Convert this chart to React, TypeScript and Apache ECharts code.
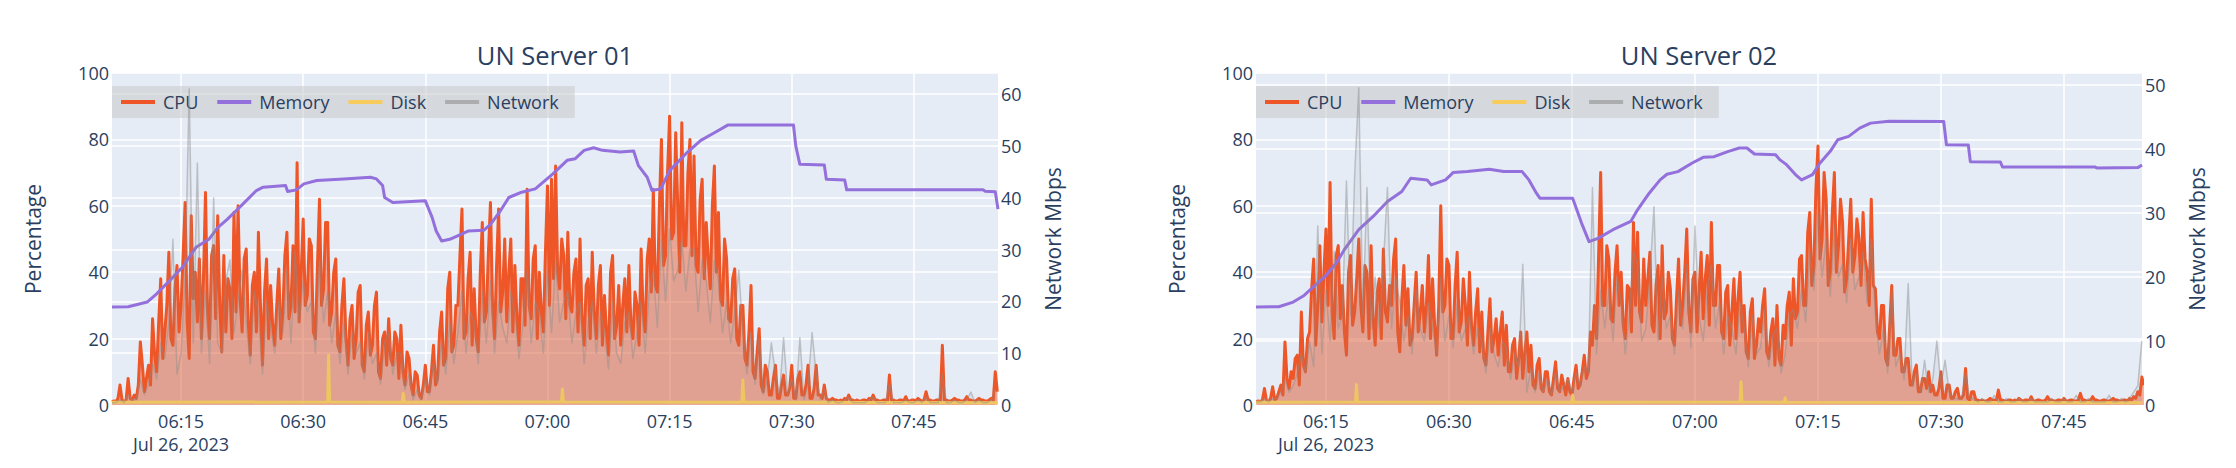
import React, { useEffect, useRef } from 'react';
import * as echarts from 'echarts';

// ---------- data ----------
const seriesNames = ['CPU', 'Memory', 'Disk', 'Network'];
const titles = ['UN Server 01', 'UN Server 02'];
const tickLabels = ['06:15', '06:30', '06:45', '07:00', '07:15', '07:30', '07:45'];
const dateLabel = 'Jul 26, 2023';
const xRange01 = ['06:06:31', '07:55:20'];
const xRange02 = ['06:06:28', '07:54:31'];
const netMax01 = 64.1;
const netMax02 = 51.9;

// CPU sampled every 15 s, Network every 30 s, both starting at 06:06:30
const sampleStart = '06:06:30';
const cpuStepSec = 15;
const netStepSec = 30;

const cpu01 = [
  1, 1.2,
  1, 2, 6, 1.5, 1, 1.5, 8, 2, 1.5, 3, 2, 6, 19, 12, 4, 8, 12, 6, 26, 15,
  10, 25, 38, 14, 22, 30, 46, 20, 18, 35, 42, 22, 30, 45, 61, 25, 14, 57, 32, 40,
  25, 44, 20, 38, 64, 28, 20, 45, 48, 26, 57, 30, 16, 45, 22, 38, 35, 20, 58, 28,
  60, 32, 22, 44, 47, 25, 15, 36, 40, 22, 52, 30, 12, 34, 44, 20, 36, 24, 18, 30,
  41, 20, 28, 45, 52, 26, 30, 48, 28, 73, 25, 40, 56, 30, 33, 50, 48, 22, 20, 42,
  62, 30, 35, 55, 55, 24, 28, 40, 44, 18, 16, 30, 38, 20, 12, 26, 30, 14, 20, 34,
  36, 12, 10, 24, 28, 15, 18, 30, 34, 10, 8, 20, 22, 12, 26, 14, 12, 22, 20, 8,
  24, 10, 6, 16, 14, 6, 3, 10, 9, 3, 2, 6, 12, 4, 4, 10, 18, 6, 8, 22,
  28, 12, 14, 35, 40, 16, 18, 30, 30, 45, 59, 20, 22, 38, 46, 18, 35, 20, 16, 40,
  55, 25, 28, 46, 61, 30, 20, 42, 59, 28, 34, 50, 25, 40, 50, 22, 42, 26, 18, 38,
  38, 24, 65, 30, 26, 44, 48, 20, 40, 28, 22, 46, 66, 30, 68, 38, 72, 40, 35, 50,
  45, 26, 52, 30, 28, 40, 44, 22, 50, 26, 18, 36, 38, 20, 46, 28, 20, 36, 42, 18,
  33, 22, 15, 40, 45, 20, 24, 36, 18, 30, 38, 22, 42, 24, 20, 34, 30, 18, 47, 28,
  22, 44, 50, 34, 65, 36, 34, 60, 80, 42, 45, 70, 87, 50, 52, 82, 60, 40, 85, 48,
  48, 70, 80, 45, 75, 42, 40, 62, 68, 38, 55, 44, 35, 60, 72, 40, 58, 32, 30, 50,
  44, 26, 25, 38, 41, 20, 18, 30, 30, 14, 12, 22, 36, 10, 8, 16, 23, 6, 4, 12,
  10, 3, 3, 8, 12, 2, 2, 6, 9, 3, 3, 5, 12, 2, 2, 8, 10, 3, 3, 6,
  12, 2, 2, 5, 12, 3, 3, 2, 6, 2, 1.5, 1.5, 2, 1.5, 1.5, 1.2, 1.5, 1.2, 2, 1.5,
  3, 1.5, 1.5, 1.2, 1.5, 1.2, 1.2, 1.5, 1.5, 1.2, 2, 1.5, 3, 1.5, 1.5, 1.2, 1.2, 1.5, 1.5, 1.2,
  9, 1.5, 1.5, 1.2, 1.2, 1.5, 1.5, 1.2, 2.5, 1.2, 1.2, 1.5, 1.5, 1.2, 2, 1.5, 1.2, 1.5, 4, 1.5,
  1.5, 1.2, 1.2, 1.5, 1.5, 1.2, 18, 1.5, 1.5, 1.2, 1.2, 1.5, 2, 1.5, 1.5, 1.2, 1.2, 1.5, 2.5, 1.5,
  1.5, 1.2, 1.2, 1.5, 2, 1.5, 1.5, 1.2, 1.2, 1.5, 2, 1.5,
  10, 4,
];

const net01 = [
  0.5,
  0.5, 1, 0.5, 2, 1, 1, 5, 2, 4, 8, 5, 12, 9, 16, 32, 6, 10, 25, 61, 12,
  46.7, 10, 22, 8, 40, 12, 10, 24, 28, 14, 20, 26, 16, 8, 22, 18, 6, 20, 15, 10,
  20, 14, 26, 12, 30, 16, 24, 18, 20, 10, 28, 16, 22, 12, 18, 8, 16, 6, 14, 10,
  12, 5, 14, 8, 10, 4, 12, 14, 6, 10, 10, 3, 6, 1, 3, 1, 5, 2, 8, 4,
  12, 6, 16, 8, 14, 22, 10, 18, 16, 8, 22, 12, 24, 10, 20, 15, 12, 22, 18, 9,
  16, 26, 12, 20, 18, 10, 26, 14, 28, 16, 20, 22, 12, 18, 20, 8, 16, 20, 10, 18,
  14, 7, 20, 10, 8, 16, 18, 9, 14, 20, 10, 22, 26, 15, 32, 20, 34, 24, 26, 32,
  22, 30, 30, 18, 28, 24, 16, 28, 24, 14, 20, 12, 18, 26, 14, 6, 14, 4, 13, 2,
  5, 12, 6, 2, 13, 2, 5, 1, 13, 1, 4, 14, 6, 1, 3, 0.5, 1, 0.5, 0.5, 1,
  1.5, 0.5, 0.5, 0.5, 0.5, 1, 1.5, 0.5, 0.5, 0.5, 4, 0.5, 0.5, 0.5, 1, 0.5, 0.5, 1, 0.5, 1.5,
  0.5, 0.5, 0.5, 6, 0.5, 0.5, 1, 0.5, 0.5, 1, 2.5, 0.5, 1, 0.5, 0.5, 1,
  3,
];

const cpu02 = [
  1, 1.2,
  1, 1.5, 5, 1.2, 1, 2, 5.5, 1.5, 2, 4, 6, 3, 19, 8, 5, 10, 8, 14, 15, 6,
  28, 12, 10, 20, 22, 35, 44, 18, 30, 48, 25, 40, 53, 30, 67, 28, 20, 45, 48, 26,
  36, 22, 15, 40, 45, 24, 28, 38, 50, 30, 22, 42, 40, 20, 48, 26, 18, 34, 38, 20,
  47, 28, 25, 36, 30, 44, 50, 22, 16, 32, 42, 24, 35, 18, 20, 30, 40, 22, 28, 36,
  22, 30, 45, 20, 38, 24, 15, 30, 60, 28, 30, 44, 42, 20, 20, 36, 46, 22, 25, 38,
  30, 18, 40, 24, 18, 28, 35, 16, 28, 14, 12, 22, 32, 16, 20, 26, 15, 22, 28, 12,
  24, 10, 10, 18, 20, 8, 14, 22, 8, 16, 22, 10, 18, 6, 5, 12, 14, 5, 4, 10,
  10, 4, 3, 8, 13, 5, 4, 9, 6, 3, 8, 4, 3, 8, 12, 5, 6, 10, 15, 8,
  10, 22, 18, 30, 20, 45, 70, 30, 30, 48, 44, 26, 25, 40, 48, 30, 40, 24, 20, 36,
  35, 22, 55, 30, 52, 28, 25, 44, 30, 38, 46, 24, 22, 36, 42, 20, 48, 26, 28, 40,
  35, 20, 18, 32, 44, 24, 30, 40, 53, 28, 22, 38, 40, 22, 34, 46, 26, 38, 45, 24,
  55, 30, 30, 42, 42, 22, 20, 34, 36, 18, 28, 38, 20, 32, 40, 22, 30, 16, 14, 28,
  32, 14, 18, 26, 22, 30, 35, 16, 14, 22, 26, 12, 30, 14, 12, 24, 20, 30, 34, 18,
  38, 26, 28, 44, 45, 30, 30, 52, 58, 36, 42, 65, 78, 44, 50, 70, 62, 36, 40, 58,
  70, 40, 48, 62, 55, 34, 38, 50, 62, 40, 45, 56, 50, 36, 58, 44, 40, 30, 62, 36,
  35, 22, 20, 30, 30, 14, 12, 24, 36, 15, 15, 20, 20, 10, 10, 14, 14, 6, 6, 10,
  12, 4, 4, 8, 8, 5, 10, 4, 6, 3, 3, 5, 10, 2, 2, 6, 6, 2, 2, 4,
  5, 2, 2, 3, 11, 2, 1.5, 4, 4, 1.5, 1.5, 1.2, 1.5, 1.2, 1.2, 1.5, 2, 1.5, 1.5, 1.2,
  4.5, 1.5, 1.5, 1.2, 1.2, 1.5, 1.5, 1.2, 1.5, 1.2, 2, 1.5, 1.2, 1.5, 1.5, 1.2, 2.5, 1.2, 1.2, 1.5,
  1.5, 1.2, 1.2, 1.5, 2.5, 1.5, 1.5, 1.2, 1.2, 1.5, 1.5, 1.2, 2, 1.2, 1.2, 1.5, 1.5, 1.2, 1.2, 1.5,
  3.5, 1.5, 1.5, 1.2, 1.2, 1.5, 2.5, 1.5, 1.5, 1.2, 1.2, 1.5, 1.5, 1.2, 1.2, 1.5, 2, 1.5, 1.5, 1.2,
  1.2, 1.5, 1.5, 1.2, 2, 1.5, 2.5, 2, 4, 3, 8.4, 6,
];

const net02 = [
  0.5,
  0.5, 1, 0.5, 1, 1, 2, 4, 2, 3, 5, 8, 5, 10, 6, 28, 8, 18, 10, 24, 12,
  14, 35, 14, 36, 49.6, 14, 34, 12, 20, 12, 22, 34, 12, 20, 16, 10, 14, 8, 18, 12,
  10, 16, 12, 8, 20, 10, 14, 9, 16, 10, 12, 14, 8, 12, 10, 5, 12, 8, 6, 10,
  9, 4, 8, 6, 22, 2, 6, 2, 5, 2, 4, 1.5, 5, 2, 3, 4, 2, 5, 3, 6,
  5, 34, 8, 18, 12, 18, 10, 20, 16, 8, 14, 24, 22, 10, 12, 20, 31, 10, 20, 12,
  14, 8, 18, 12, 22, 9, 28, 14, 10, 18, 22, 12, 16, 8, 14, 12, 8, 16, 12, 6,
  14, 8, 9, 15, 6, 11, 12, 5, 8, 14, 15, 12, 18, 13, 24, 18, 30, 20, 26, 17,
  28, 20, 22, 16, 26, 18, 20, 24, 16, 26, 14, 8, 12, 5, 18, 6, 8, 4, 19, 3,
  5, 2, 7, 2, 4, 10, 3, 7, 2, 1, 1, 1, 5, 1, 1, 0.5, 1, 0.5, 0.5, 1.5,
  0.5, 0.5, 1, 0.5, 0.5, 1, 0.5, 0.5, 1, 0.5, 0.5, 0.5, 0.5, 1, 0.5, 0.5, 1, 0.5, 0.5, 1.5,
  0.5, 0.5, 1, 0.5, 0.5, 0.5, 0.5, 1.5, 0.5, 0.5, 1, 0.5, 1, 2, 3, 10,
];

const mem01: [string, number][] = [
  ['06:06:31', 29.5], ['06:08:30', 29.6], ['06:09:30', 30.2], ['06:10:50', 31],
  ['06:12:00', 33.5], ['06:13:25', 37], ['06:15:10', 41.5], ['06:16:50', 47.5],
  ['06:18:25', 49.9], ['06:19:30', 53.4], ['06:20:40', 55.9], ['06:21:45', 58.5],
  ['06:22:35', 60.5], ['06:24:15', 64.6], ['06:25:05', 65.6], ['06:27:50', 66.1],
  ['06:28:05', 64.3], ['06:29:10', 64.8], ['06:30:05', 66.6], ['06:31:40', 67.6],
  ['06:35:00', 68.1], ['06:38:15', 68.6], ['06:39:00', 68.1], ['06:39:45', 66.1],
  ['06:40:00', 62.5], ['06:41:00', 61.0], ['06:45:00', 61.5], ['06:45:50', 56.5],
  ['06:46:20', 52.4], ['06:47:00', 49.4], ['06:48:00', 49.9], ['06:50:15', 52.4],
  ['06:52:10', 52.6], ['06:53:00', 54.4], ['06:54:05', 58], ['06:55:15', 62.5],
  ['06:56:50', 64.1], ['06:58:30', 65.1], ['07:00:40', 69.6], ['07:02:25', 73.7],
  ['07:03:25', 74.2], ['07:04:30', 76.7], ['07:05:40', 77.5], ['07:06:45', 76.7],
  ['07:08:55', 76.2], ['07:10:35', 76.5], ['07:11:10', 72.1], ['07:12:15', 68.6],
  ['07:12:50', 64.6], ['07:13:55', 65.1], ['07:15:00', 70.6], ['07:17:00', 75.7],
  ['07:18:50', 79.7], ['07:20:30', 82], ['07:22:08', 84.3], ['07:30:13', 84.3],
  ['07:30:30', 78], ['07:31:00', 72.5], ['07:34:00', 72.3], ['07:34:15', 68],
  ['07:36:30', 67.8], ['07:36:45', 64.8], ['07:53:30', 64.8], ['07:53:45', 64.4],
  ['07:55:00', 64.2], ['07:55:20', 59],
];

const mem02: [string, number][] = [
  ['06:06:28', 29.5], ['06:09:15', 29.6], ['06:11:00', 31], ['06:12:20', 33],
  ['06:13:40', 36], ['06:15:00', 39], ['06:16:20', 43], ['06:17:13', 46.7],
  ['06:19:00', 52.8], ['06:20:45', 56.8], ['06:22:30', 61.3], ['06:24:15', 64.3],
  ['06:25:20', 68.3], ['06:27:20', 67.8], ['06:27:50', 66.3], ['06:29:35', 67.8],
  ['06:30:30', 70], ['06:32:15', 70.3], ['06:34:55', 71], ['06:36:40', 70.3],
  ['06:38:55', 70.3], ['06:39:45', 67.8], ['06:40:40', 63.8], ['06:41:05', 62.3],
  ['06:45:05', 62.3], ['06:45:40', 58.3], ['06:46:10', 54.8], ['06:47:05', 49.2],
  ['06:48:10', 50.2], ['06:50:00', 52.8], ['06:52:10', 55.3], ['06:53:00', 58.8],
  ['06:54:25', 63.8], ['06:55:45', 67.8], ['06:56:35', 69.5], ['06:57:55', 70.3],
  ['06:59:40', 72.9], ['07:01:00', 74.6], ['07:02:20', 74.8], ['07:04:05', 76.4],
  ['07:05:25', 77.4], ['07:06:20', 77.4], ['07:07:15', 75.6], ['07:09:50', 75.4],
  ['07:10:20', 73.9], ['07:11:10', 72.4], ['07:12:15', 69.4], ['07:13:00', 67.8],
  ['07:14:20', 69.4], ['07:15:15', 72.9], ['07:16:30', 76.4], ['07:17:25', 79.9],
  ['07:18:45', 80.9], ['07:20:05', 83.4], ['07:21:25', 84.9], ['07:23:40', 85.5],
  ['07:30:20', 85.4], ['07:30:40', 78.4], ['07:33:20', 78.3], ['07:33:35', 73.3],
  ['07:37:15', 73.2], ['07:37:30', 71.7], ['07:48:45', 71.7], ['07:49:00', 71.4],
  ['07:54:00', 71.5], ['07:54:31', 72.3],
];

const disk01: [string, number][] = [
  ['06:06:31', 0.8], ['06:33:00', 0.9], ['06:33:07', 15], ['06:33:15', 0.9],
  ['06:42:10', 0.8], ['06:42:17', 3.5], ['06:42:25', 0.8], ['07:01:43', 0.9],
  ['07:01:50', 4.8], ['07:01:58', 0.9], ['07:23:52', 0.8], ['07:24:00', 7.5],
  ['07:24:08', 0.8], ['07:55:20', 0.7],
];

const disk02: [string, number][] = [
  ['06:06:28', 0.8], ['06:18:36', 0.9], ['06:18:43', 6.2], ['06:18:50', 0.9],
  ['06:44:58', 0.8], ['06:45:05', 3], ['06:45:12', 0.8], ['07:05:30', 0.9],
  ['07:05:37', 7], ['07:05:44', 0.9], ['07:10:53', 0.8], ['07:11:00', 2.2],
  ['07:11:07', 0.8], ['07:54:31', 0.7],
];

// ---------- styling ----------
const TEXT = '#2a3f5f';
const FONT = '"Open Sans", verdana, arial, sans-serif';
const C_CPU = '#EE5627';
const C_MEM = '#9370DB';
const C_DISK = '#F8CC5C';
const C_NET_LINE = 'rgba(140,140,140,0.45)';
const C_NET_LEGEND = 'rgba(130,130,130,0.5)';
const C_NET_FILL = 'rgba(140,140,140,0.14)';

const toMs = (s: string) => {
  const [h, m, sec] = s.split(':').map(Number);
  return Date.UTC(2023, 6, 26, h, m, sec || 0);
};
const sampled = (vals: number[], stepSec: number) =>
  vals.map((v, i) => [toMs(sampleStart) + i * stepSec * 1000, v]);
const pairs = (list: [string, number][]) => list.map(([t, v]) => [toMs(t), v]);
const pad = (n: number) => (n < 10 ? '0' + n : '' + n);

const tickValues = tickLabels.map((t) => toMs(t + ':00'));

function buildOption() {
  const gridDefs = [
    { left: 112, top: 73, width: 886, height: 332 },
    { left: 1256, top: 73, width: 886, height: 332 },
  ];
  const data = [
    { cpu: cpu01, net: net01, mem: mem01, disk: disk01, range: xRange01, netMax: netMax01 },
    { cpu: cpu02, net: net02, mem: mem02, disk: disk02, range: xRange02, netMax: netMax02 },
  ];
  const grid: any[] = [];
  const xAxis: any[] = [];
  const yAxis: any[] = [];
  const series: any[] = [];
  const legend: any[] = [];
  const graphic: any[] = [];

  const labelStyle = { fontSize: 18, color: TEXT, fontFamily: FONT };
  const nameStyle = { fontSize: 21, color: TEXT, fontFamily: FONT };

  gridDefs.forEach((g, gi) => {
    const d = data[gi];
    grid.push({ ...g, show: true, backgroundColor: '#E5ECF6', borderWidth: 0 });
    xAxis.push({
      type: 'value',
      gridIndex: gi,
      min: toMs(d.range[0]),
      max: toMs(d.range[1]),
      axisLine: { show: false },
      axisTick: { show: false, customValues: tickValues },
      axisLabel: {
        ...labelStyle,
        customValues: tickValues,
        margin: 4,
        lineHeight: 23,
        formatter: (v: number) => {
          const dt = new Date(v);
          const s = pad(dt.getUTCHours()) + ':' + pad(dt.getUTCMinutes());
          return v === tickValues[0] ? s + '\n' + dateLabel : s;
        },
      },
      splitLine: { show: true, lineStyle: { color: '#ffffff', width: 1.5 } },
    });
    yAxis.push({
      type: 'value',
      gridIndex: gi,
      position: 'left',
      min: 0,
      max: 100,
      interval: 20,
      name: 'Percentage',
      nameLocation: 'middle',
      nameGap: 69,
      nameTextStyle: nameStyle,
      axisLine: { show: false },
      axisTick: { show: false },
      axisLabel: { ...labelStyle, margin: 3 },
      splitLine: { show: true, lineStyle: { color: '#ffffff', width: 1.5 } },
    });
    yAxis.push({
      type: 'value',
      gridIndex: gi,
      position: 'right',
      min: 0,
      max: d.netMax,
      interval: 10,
      name: 'Network Mbps',
      nameLocation: 'middle',
      nameGap: 44,
      nameTextStyle: nameStyle,
      axisLine: { show: false },
      axisTick: { show: false },
      axisLabel: { ...labelStyle, margin: 3, showMaxLabel: false },
      splitLine: { show: true, showMaxLine: false, lineStyle: { color: '#ffffff', width: 1.5 } },
    });
    const yl = gi * 2;
    series.push({
      name: 'CPU', type: 'line', xAxisIndex: gi, yAxisIndex: yl,
      data: sampled(d.cpu, cpuStepSec), symbol: 'none', showSymbol: false, z: 2,
      itemStyle: { color: C_CPU },
      lineStyle: { color: C_CPU, width: 3, join: 'round' },
      areaStyle: { color: C_CPU, opacity: 0.48 },
    });
    series.push({
      name: 'Memory', type: 'line', xAxisIndex: gi, yAxisIndex: yl,
      data: pairs(d.mem), symbol: 'none', showSymbol: false, z: 3,
      itemStyle: { color: C_MEM },
      lineStyle: { color: C_MEM, width: 3, join: 'round' },
    });
    series.push({
      name: 'Disk', type: 'line', xAxisIndex: gi, yAxisIndex: yl,
      data: pairs(d.disk), symbol: 'none', showSymbol: false, z: 4,
      itemStyle: { color: C_DISK },
      lineStyle: { color: C_DISK, width: 3, join: 'round' },
    });
    series.push({
      name: 'Network', type: 'line', xAxisIndex: gi, yAxisIndex: yl + 1,
      data: sampled(d.net, netStepSec), symbol: 'none', showSymbol: false, z: 5,
      itemStyle: { color: C_NET_LEGEND },
      lineStyle: { color: C_NET_LINE, width: 1.5, join: 'round' },
      areaStyle: { color: C_NET_FILL },
    });
    legend.push({
      left: g.left,
      top: 86,
      orient: 'horizontal',
      icon: 'rect',
      itemWidth: 34,
      itemHeight: 4,
      itemGap: 19,
      padding: [7, 16, 7, 9],
      backgroundColor: 'rgba(200,200,200,0.55)',
      textStyle: { fontSize: 18, color: TEXT, fontFamily: FONT, lineHeight: 18, padding: [0, 0, 0, 3] },
      data: seriesNames,
    });
    graphic.push({
      type: 'text',
      x: g.left + g.width / 2,
      y: 55,
      style: {
        text: titles[gi],
        fill: TEXT,
        fontSize: 25.5,
        fontFamily: FONT,
        align: 'center',
        verticalAlign: 'middle',
      },
    });
  });

  return {
    animation: false,
    backgroundColor: '#ffffff',
    grid,
    xAxis,
    yAxis,
    series,
    legend,
    graphic,
  };
}

export default function App() {
  const ref = useRef<HTMLDivElement>(null);
  useEffect(() => {
    if (!ref.current) return;
    const chart = echarts.init(ref.current, undefined, { renderer: 'svg' });
    chart.setOption(buildOption() as any);
    return () => chart.dispose();
  }, []);
  return (
    <div
      ref={ref}
      style={{ position: 'fixed', left: 0, top: 0, width: 2236, height: 468, background: '#fff' }}
    />
  );
}
